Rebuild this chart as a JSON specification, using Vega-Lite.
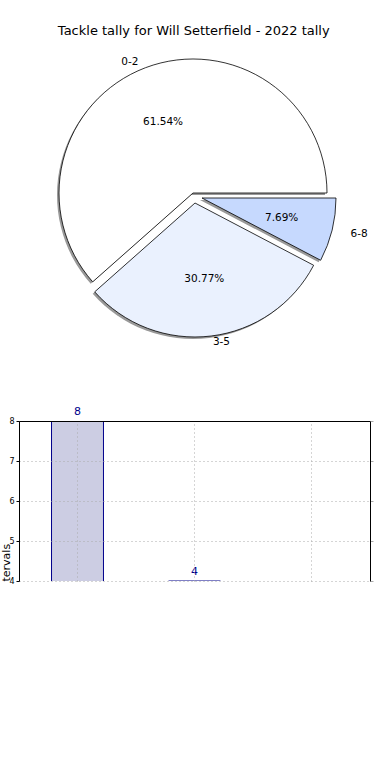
{
  "$schema": "https://vega.github.io/schema/vega-lite/v6.json",
  "padding": {"left": 0, "top": 25, "right": 0, "bottom": 0},
  "background": "white",
  "title": {"text": "Tackle tally for Will Setterfield - 2022 tally", "font": "DejaVu Sans", "fontSize": 13, "fontWeight": "normal", "color": "#000000", "anchor": "middle", "offset": 5, "dx": 7},
  "config": {"view": {"stroke": null}, "font": "DejaVu Sans"},
  "datasets": {
    "tally": [
      {"range": "0-2", "count": 8, "share": "61.54%"},
      {"range": "3-5", "count": 4, "share": "30.77%"},
      {"range": "6-8", "count": 1, "share": "7.69%"}
    ]
  },
  "spacing": 51,
  "vconcat": [
    {
      "width": 348,
      "height": 300,
      "data": {"name": "tally"},
      "encoding": {
        "theta": {"field": "count", "type": "quantitative", "stack": true, "scale": {"range": [1.5707963, 7.8539816]}},
        "order": {"field": "range", "sort": "descending"}
      },
      "layer": [
        {"mark": {"type": "arc", "radius": 134, "fill": "#999999", "xOffset": -2, "yOffset": 2},
         "encoding": {"opacity": {"condition": {"test": "datum.range === '0-2'", "value": 1}, "value": 0}}},
        {"mark": {"type": "arc", "radius": 134, "fill": "#999999", "xOffset": 0, "yOffset": 12},
         "encoding": {"opacity": {"condition": {"test": "datum.range === '3-5'", "value": 1}, "value": 0}}},
        {"mark": {"type": "arc", "radius": 134, "fill": "#999999", "xOffset": 7, "yOffset": 7},
         "encoding": {"opacity": {"condition": {"test": "datum.range === '6-8'", "value": 1}, "value": 0}}},
        {"mark": {"type": "arc", "radius": 134, "fill": "#ffffff", "stroke": "#000000", "strokeWidth": 0.8},
         "encoding": {"opacity": {"condition": {"test": "datum.range === '0-2'", "value": 1}, "value": 0}}},
        {"mark": {"type": "arc", "radius": 134, "fill": "#eaf1fe", "stroke": "#000000", "strokeWidth": 0.8, "xOffset": 2, "yOffset": 10},
         "encoding": {"opacity": {"condition": {"test": "datum.range === '3-5'", "value": 1}, "value": 0}}},
        {"mark": {"type": "arc", "radius": 134, "fill": "#c6d9fe", "stroke": "#000000", "strokeWidth": 0.8, "xOffset": 9, "yOffset": 5},
         "encoding": {"opacity": {"condition": {"test": "datum.range === '6-8'", "value": 1}, "value": 0}}},
        {"mark": {"type": "text", "radius": 76, "fontSize": 10.5, "color": "#000000", "xOffset": -3},
         "encoding": {"text": {"field": "share"}, "opacity": {"condition": {"test": "datum.range === '0-2'", "value": 1}, "value": 0}}},
        {"mark": {"type": "text", "radius": 77, "fontSize": 10.5, "color": "#000000", "xOffset": 2, "yOffset": 10},
         "encoding": {"text": {"field": "share"}, "opacity": {"condition": {"test": "datum.range === '3-5'", "value": 1}, "value": 0}}},
        {"mark": {"type": "text", "radius": 82, "fontSize": 10.5, "color": "#000000", "xOffset": 9, "yOffset": 5},
         "encoding": {"text": {"field": "share"}, "opacity": {"condition": {"test": "datum.range === '6-8'", "value": 1}, "value": 0}}},
        {"mark": {"type": "text", "radius": 140, "fontSize": 10.5, "color": "#000000", "align": "right", "xOffset": -5},
         "encoding": {"text": {"field": "range"}, "opacity": {"condition": {"test": "datum.range === '0-2'", "value": 1}, "value": 0}}},
        {"mark": {"type": "text", "radius": 140, "fontSize": 10.5, "color": "#000000", "align": "left", "xOffset": 3, "yOffset": 10},
         "encoding": {"text": {"field": "range"}, "opacity": {"condition": {"test": "datum.range === '3-5'", "value": 1}, "value": 0}}},
        {"mark": {"type": "text", "radius": 152, "fontSize": 10.5, "color": "#000000", "align": "left", "xOffset": 10, "yOffset": 5},
         "encoding": {"text": {"field": "range"}, "opacity": {"condition": {"test": "datum.range === '6-8'", "value": 1}, "value": 0}}}
      ]
    },
    {
      "width": 351,
      "height": 160,
      "data": {"name": "tally"},
      "encoding": {
        "x": {"field": "range", "type": "nominal", "sort": null,
              "scale": {"paddingInner": 0.556, "paddingOuter": 0.278},
              "axis": {"orient": "top", "title": null, "labels": false, "ticks": false, "domain": true, "domainColor": "#000000", "domainWidth": 1, "grid": true, "gridDash": [1, 3], "gridColor": "#aaaaaa", "bandPosition": 0.5, "zindex": 1}}
      },
      "layer": [
        {
          "mark": {"type": "bar", "fill": "#cccde3", "stroke": "#00008b", "strokeWidth": 1, "clip": true},
          "encoding": {
            "y": {"field": "count", "type": "quantitative", "scale": {"domain": [4, 8]},
                  "axis": {"orient": "left", "values": [4, 5, 6, 7, 8], "format": "d", "labelFontSize": 8, "labelColor": "#000000", "tickColor": "#000000", "tickSize": 3, "labelPadding": 2, "domainColor": "#000000", "grid": true, "gridDash": [1, 3], "gridColor": "#aaaaaa", "zindex": 1,
                           "title": "tervals", "titleFontSize": 11, "titleFontWeight": "normal", "titleColor": "#000000", "titleAngle": 270, "titleAlign": "left", "titleBaseline": "bottom", "titleX": -8, "titleY": 160}}
          }
        },
        {
          "transform": [{"filter": "datum.count >= 4"}],
          "mark": {"type": "text", "fontSize": 11, "color": "#00008b", "dy": -9},
          "encoding": {
            "y": {"field": "count", "type": "quantitative", "scale": {"domain": [4, 8]},
                  "axis": {"orient": "right", "values": [4, 5, 6, 7, 8], "labels": false, "tickSize": 3, "tickColor": "#aaaaaa", "domainColor": "#000000", "grid": false, "title": null, "zindex": 1}},
            "text": {"field": "count", "type": "quantitative"}
          }
        }
      ],
      "resolve": {"axis": {"y": "independent"}}
    }
  ]
}
